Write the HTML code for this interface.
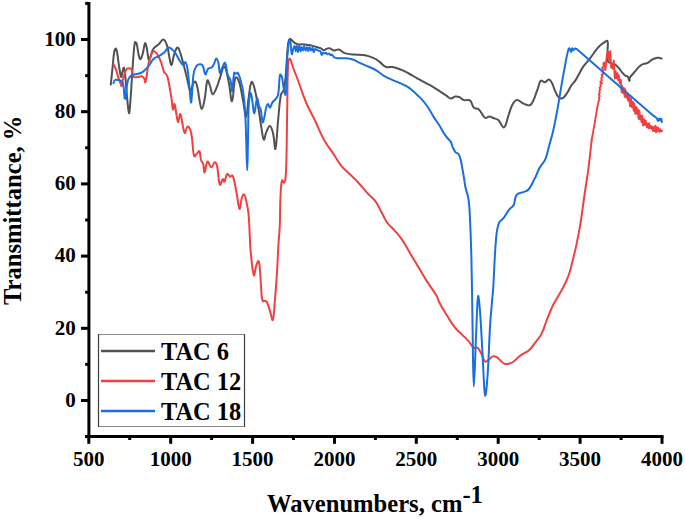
<!DOCTYPE html>
<html><head><meta charset="utf-8"><style>
html,body{margin:0;padding:0;background:#fff;}
body{width:685px;height:519px;overflow:hidden;}
svg{display:block;}
text{font-family:"Liberation Serif",serif;font-weight:bold;fill:#000;}
.tl{font-size:21px;}
.lg{font-size:24.4px;}
.tt{font-size:24.6px;}
</style></head><body>
<svg width="685" height="519" viewBox="0 0 685 519">
<rect x="87.4" y="2" width="3" height="436" fill="#000"/>
<rect x="85" y="435" width="578.5" height="3" fill="#000"/>
<rect x="81" y="399.0" width="7" height="3" fill="#000"/>
<text x="75.8" y="406.7" class="tl" text-anchor="end">0</text>
<rect x="81" y="326.8" width="7" height="3" fill="#000"/>
<text x="75.8" y="334.5" class="tl" text-anchor="end">20</text>
<rect x="81" y="254.6" width="7" height="3" fill="#000"/>
<text x="75.8" y="262.3" class="tl" text-anchor="end">40</text>
<rect x="81" y="182.4" width="7" height="3" fill="#000"/>
<text x="75.8" y="190.1" class="tl" text-anchor="end">60</text>
<rect x="81" y="110.2" width="7" height="3" fill="#000"/>
<text x="75.8" y="117.9" class="tl" text-anchor="end">80</text>
<rect x="81" y="38.0" width="7" height="3" fill="#000"/>
<text x="75.8" y="45.7" class="tl" text-anchor="end">100</text>
<rect x="85.2" y="435.1" width="2.8" height="3" fill="#000"/>
<rect x="85.2" y="362.9" width="2.8" height="3" fill="#000"/>
<rect x="85.2" y="290.7" width="2.8" height="3" fill="#000"/>
<rect x="85.2" y="218.5" width="2.8" height="3" fill="#000"/>
<rect x="85.2" y="146.3" width="2.8" height="3" fill="#000"/>
<rect x="85.2" y="74.1" width="2.8" height="3" fill="#000"/>
<rect x="85.2" y="1.9" width="2.8" height="3" fill="#000"/>
<rect x="87.3" y="436" width="3" height="7.8" fill="#000"/>
<text x="88.8" y="465.6" class="tl" text-anchor="middle">500</text>
<rect x="169.2" y="436" width="3" height="7.8" fill="#000"/>
<text x="170.7" y="465.6" class="tl" text-anchor="middle">1000</text>
<rect x="251.1" y="436" width="3" height="7.8" fill="#000"/>
<text x="252.6" y="465.6" class="tl" text-anchor="middle">1500</text>
<rect x="333.0" y="436" width="3" height="7.8" fill="#000"/>
<text x="334.5" y="465.6" class="tl" text-anchor="middle">2000</text>
<rect x="414.8" y="436" width="3" height="7.8" fill="#000"/>
<text x="416.3" y="465.6" class="tl" text-anchor="middle">2500</text>
<rect x="496.7" y="436" width="3" height="7.8" fill="#000"/>
<text x="498.2" y="465.6" class="tl" text-anchor="middle">3000</text>
<rect x="578.6" y="436" width="3" height="7.8" fill="#000"/>
<text x="580.1" y="465.6" class="tl" text-anchor="middle">3500</text>
<rect x="660.5" y="436" width="3" height="7.8" fill="#000"/>
<text x="662.0" y="465.6" class="tl" text-anchor="middle">4000</text>
<rect x="128.2" y="436" width="3" height="4" fill="#000"/>
<rect x="210.1" y="436" width="3" height="4" fill="#000"/>
<rect x="292.0" y="436" width="3" height="4" fill="#000"/>
<rect x="373.9" y="436" width="3" height="4" fill="#000"/>
<rect x="455.8" y="436" width="3" height="4" fill="#000"/>
<rect x="537.7" y="436" width="3" height="4" fill="#000"/>
<rect x="619.6" y="436" width="3" height="4" fill="#000"/>
<path d="M110.8,84.6 C111.6,77.2 111.9,73.6 112.7,66.2 C113.3,60.6 113.2,57.8 114.2,52.3 C114.5,50.7 115.3,48.2 115.8,48.5 C116.5,48.8 116.9,51.6 117.3,53.8 C118.1,58.1 118.1,60.3 118.8,64.6 C119.6,69.5 120.2,75.2 121.2,76.9 C121.7,77.7 122.0,73.2 122.7,70.8 C123.1,69.5 123.5,67.3 123.8,67.7 C124.4,68.5 124.7,71.3 125.0,73.8 C125.8,80.6 125.9,84.0 126.5,90.8 C127.1,97.6 127.3,101.0 128.1,107.7 C128.4,109.9 128.9,113.9 129.2,113.1 C129.8,111.4 130.0,106.1 130.4,101.5 C131.1,92.3 131.3,87.7 131.9,78.5 C132.5,69.3 132.7,64.6 133.5,55.4 C133.9,50.1 133.9,46.7 135.0,42.3 C135.1,41.7 136.3,42.5 136.5,43.1 C137.8,47.7 137.6,50.6 138.8,55.4 C139.2,57.0 139.8,59.5 140.4,59.2 C141.3,58.8 142.0,56.0 142.7,53.8 C143.6,50.8 143.5,49.2 144.2,46.2 C144.5,44.9 144.9,42.8 145.3,43.1 C145.9,43.5 146.4,46.0 146.8,48.0 C147.8,53.0 147.8,57.8 148.9,60.6 C149.2,61.4 149.9,58.5 150.5,57.0 C151.7,53.8 151.5,51.8 153.3,49.0 C154.7,46.8 156.4,46.4 158.4,44.6 C160.5,42.6 161.8,39.2 163.5,39.5 C165.3,39.8 166.3,43.2 167.2,46.0 C168.7,50.6 168.4,53.2 169.5,58.0 C170.1,60.8 170.8,65.5 171.5,65.0 C172.6,64.3 172.7,58.9 174.0,55.0 C175.0,51.9 175.9,48.2 177.4,47.5 C178.3,47.0 179.3,50.1 180.0,52.0 C181.3,55.3 181.6,57.1 182.5,60.6 C184.2,66.7 184.9,69.8 186.5,76.0 C188.1,82.0 188.7,88.8 190.5,91.0 C191.3,92.0 191.7,86.6 193.0,84.0 C193.6,82.8 194.7,81.0 195.3,81.5 C196.5,82.6 196.9,85.3 197.5,88.0 C198.6,92.7 198.5,95.2 199.5,100.0 C200.2,103.6 200.7,109.0 201.7,109.0 C202.7,109.0 203.8,103.7 204.5,100.0 C206.1,92.2 205.8,84.7 207.5,80.4 C208.0,79.1 209.2,83.7 210.0,86.0 C211.2,89.2 211.2,93.7 212.6,94.2 C213.7,94.6 215.2,90.9 216.3,88.4 C218.1,84.5 218.4,82.3 219.9,78.2 C221.6,73.5 222.8,65.8 224.3,66.5 C226.3,67.4 227.3,75.7 228.7,82.0 C230.4,89.6 230.8,101.9 232.0,101.2 C233.4,100.4 233.3,87.1 235.1,78.3 C235.3,77.5 236.5,76.9 236.9,77.4 C238.3,79.1 239.0,81.1 239.7,83.8 C241.6,91.0 241.9,94.8 243.3,102.1 C244.4,108.0 245.2,117.7 246.1,116.8 C247.4,115.5 247.5,104.6 248.8,96.6 C249.7,90.7 250.0,84.6 251.6,82.0 C252.2,80.9 253.7,85.1 254.3,87.5 C256.2,94.7 256.7,98.4 258.0,105.8 C259.7,115.3 260.1,120.1 261.7,129.6 C262.4,133.7 262.8,139.1 263.8,139.7 C264.6,140.2 265.0,135.2 266.2,132.4 C267.4,129.7 268.6,125.8 269.9,126.0 C271.3,126.2 272.3,130.2 273.0,133.3 C274.5,139.4 274.7,150.7 275.4,148.9 C276.7,145.6 276.9,131.9 278.1,120.5 C279.1,110.2 279.1,104.8 280.9,94.8 C281.3,92.7 283.0,92.2 283.6,90.2 C284.9,85.6 285.0,83.1 285.5,78.3 C286.2,72.2 286.1,69.1 286.6,63.0 C287.2,55.4 287.1,51.5 288.1,44.0 C288.4,41.8 288.8,39.5 289.9,38.8 C290.6,38.3 291.5,40.1 292.5,41.0 C293.5,41.9 293.9,42.5 295.0,43.2 C295.9,43.8 296.5,44.1 297.6,44.3 C299.3,44.6 300.2,44.3 302.0,44.3 C303.2,44.3 303.7,44.4 304.9,44.5 C306.7,44.7 307.6,44.7 309.3,45.0 C311.1,45.3 312.0,45.6 313.7,46.1 C315.2,46.5 315.9,46.8 317.3,47.2 C318.8,47.6 319.6,47.7 321.0,48.3 C322.2,48.9 322.7,50.1 323.9,50.2 C325.0,50.3 325.6,49.1 326.8,48.7 C327.9,48.3 328.6,48.0 329.7,48.3 C331.1,48.6 331.6,49.6 333.0,50.2 C333.5,50.4 333.8,50.6 334.4,50.5 C336.2,50.3 337.2,49.1 338.8,49.5 C341.3,50.1 342.1,52.3 344.6,53.1 C348.5,54.3 350.7,54.2 354.8,54.6 C358.9,55.0 361.0,54.5 365.0,55.3 C368.6,56.0 370.4,56.7 373.8,58.2 C376.3,59.3 377.4,60.3 379.6,61.9 C382.3,63.8 383.3,65.9 386.2,67.0 C388.5,67.9 390.2,66.5 392.8,67.0 C396.4,67.7 398.1,68.5 401.5,69.9 C404.5,71.1 405.9,72.0 408.8,73.5 C412.4,75.4 414.0,76.6 417.6,78.6 C422.5,81.3 425.1,82.4 430.0,85.2 C433.1,87.0 434.7,88.0 437.7,89.9 C441.2,92.2 442.9,93.4 446.4,95.7 C448.2,96.9 449.0,98.4 450.8,98.6 C452.5,98.8 453.4,96.9 455.2,96.6 C456.9,96.3 458.0,96.6 459.6,97.2 C461.5,98.0 462.0,99.5 463.9,100.1 C466.2,100.8 468.3,99.2 470.0,100.5 C472.3,102.3 471.8,105.7 474.0,107.9 C475.1,109.0 476.7,108.2 478.1,108.9 C479.1,109.4 479.4,110.1 480.1,111.0 C482.2,113.7 482.8,116.5 485.2,118.0 C486.4,118.7 487.6,116.6 489.2,116.6 C490.8,116.6 491.7,117.4 493.3,118.0 C495.3,118.8 496.7,118.7 498.3,120.1 C501.0,122.5 502.3,128.2 504.0,127.4 C506.4,126.2 506.8,120.0 508.6,115.0 C510.2,110.8 510.4,108.3 512.5,104.5 C513.7,102.3 515.0,100.2 517.0,100.0 C519.2,99.8 520.5,102.4 523.0,103.4 C525.6,104.5 527.7,106.0 529.9,105.2 C532.0,104.5 532.5,102.0 533.7,99.6 C535.2,96.7 535.4,95.0 536.6,91.9 C537.1,90.6 537.3,90.0 537.8,88.7 C539.0,85.5 539.0,82.3 540.9,80.6 C541.8,79.7 543.4,82.4 544.9,82.2 C546.6,82.0 547.5,79.4 548.9,79.6 C550.3,79.8 551.1,81.4 552.0,83.0 C553.6,85.9 553.6,87.7 555.0,90.7 C556.4,93.6 556.9,95.9 559.1,97.8 C560.2,98.7 561.9,98.6 563.1,97.8 C565.1,96.6 565.8,94.9 567.2,92.8 C569.0,90.1 569.4,88.4 571.2,85.7 C572.6,83.5 573.9,82.8 575.3,80.6 C577.1,77.9 577.7,76.3 579.3,73.5 C580.9,70.7 581.5,69.1 583.4,66.4 C585.8,63.0 587.5,61.7 590.0,58.4 C591.9,55.9 592.7,54.5 594.6,52.0 C596.4,49.6 597.2,48.3 599.3,46.2 C600.9,44.6 602.0,43.9 603.9,42.7 C605.2,41.9 607.0,40.1 607.4,41.0 C608.5,43.3 607.5,46.9 607.6,50.8 C607.7,55.0 607.1,57.4 607.9,61.2 C608.1,62.3 609.3,62.4 610.3,63.0 C611.3,63.6 612.0,63.7 613.1,64.1 C614.0,64.4 614.7,64.1 615.5,64.7 C617.0,65.8 617.6,66.7 618.9,68.2 C620.4,70.0 620.9,71.0 622.4,72.8 C623.5,74.0 624.0,74.8 625.3,75.7 C626.1,76.2 627.1,75.6 627.6,76.3 C628.7,77.7 628.9,80.6 629.4,80.9 C629.8,81.1 629.3,78.7 629.9,77.5 C630.7,75.9 631.6,75.4 632.8,74.0 C634.2,72.4 634.9,71.5 636.3,69.9 C637.7,68.3 638.3,67.3 640.0,65.9 C641.3,64.9 642.1,64.5 643.6,63.9 C645.2,63.3 646.3,63.6 647.8,62.8 C649.6,61.9 650.2,60.7 652.0,59.7 C653.6,58.8 654.5,58.5 656.3,58.0 C657.3,57.7 657.9,57.7 659.0,57.8 C660.1,57.9 660.6,58.3 661.6,58.6" fill="none" stroke="#515151" stroke-width="2.0" stroke-linejoin="round" stroke-linecap="round"/>
<path d="M113.5,63.8 C114.4,66.0 115.0,67.0 115.8,69.2 C116.9,72.2 117.1,73.8 118.1,76.9 C118.9,79.4 119.5,80.6 120.4,83.1 C120.9,84.3 121.3,86.6 121.6,86.2 C122.2,85.4 122.1,82.4 122.7,80.0 C123.2,78.1 123.6,77.2 124.2,75.4 C125.1,72.9 124.9,70.9 126.5,69.2 C127.4,68.2 129.1,68.1 130.4,68.5 C131.3,68.8 131.5,69.8 131.9,70.8 C132.8,73.1 132.1,75.5 133.5,76.9 C134.5,77.9 136.3,77.1 138.1,76.9 C139.6,76.8 140.6,75.9 141.9,76.2 C143.0,76.5 143.6,77.4 144.2,78.5 C145.0,79.9 145.0,83.3 145.3,82.5 C146.3,79.9 146.6,75.0 147.5,70.0 C148.3,65.7 148.2,63.3 149.6,59.2 C150.8,55.8 152.0,51.2 154.0,51.2 C156.1,51.2 158.2,55.7 159.9,59.2 C162.3,64.1 162.1,67.3 164.2,72.3 C164.6,73.2 165.5,73.2 166.0,74.0 C167.0,75.5 167.5,76.4 167.9,78.2 C169.7,86.2 170.2,90.4 171.5,98.6 C172.2,103.0 172.2,108.2 173.0,109.6 C173.4,110.3 174.0,103.5 174.5,103.8 C175.1,104.1 175.3,108.1 175.9,111.0 C176.8,115.4 177.1,121.3 178.1,122.0 C178.8,122.5 179.5,112.7 180.3,114.0 C182.2,117.1 182.6,129.4 184.7,133.0 C185.5,134.3 186.3,126.4 187.6,126.4 C188.9,126.4 190.6,130.1 191.2,133.0 C193.2,142.1 192.2,149.4 194.2,156.3 C194.6,157.5 195.9,154.5 197.1,153.4 C198.0,152.5 199.1,150.5 199.5,151.2 C200.6,153.1 200.0,156.6 201.0,160.0 C201.5,161.6 202.6,162.0 203.1,163.6 C204.1,167.0 203.8,172.8 204.6,172.4 C205.6,171.9 205.9,162.8 207.5,161.5 C208.5,160.7 209.7,167.2 211.2,167.3 C212.6,167.4 213.4,162.6 214.8,162.2 C215.7,162.0 216.6,164.2 217.0,165.8 C218.7,173.2 218.2,180.9 219.9,184.8 C220.5,186.1 221.6,179.8 222.8,179.0 C223.4,178.6 223.8,182.5 224.3,181.9 C225.6,180.4 225.6,175.3 227.2,173.9 C228.0,173.2 228.9,176.5 230.1,176.8 C230.9,177.0 231.7,174.9 232.3,175.3 C233.2,175.8 233.4,177.5 233.8,179.0 C235.2,184.8 235.6,187.8 236.7,193.6 C237.9,199.7 238.4,207.9 239.6,208.9 C240.4,209.6 240.5,202.2 241.8,198.0 C242.3,196.4 243.3,193.9 244.0,194.3 C245.1,195.0 245.6,198.2 246.2,200.9 C247.3,205.5 247.9,207.9 248.4,212.6 C249.2,219.5 249.1,223.0 249.5,230.0 C249.9,237.7 249.9,241.6 250.5,249.3 C251.1,257.0 251.5,260.9 252.5,268.5 C252.9,271.4 253.5,275.6 254.1,275.6 C254.7,275.6 254.7,271.3 255.5,268.5 C256.4,265.4 257.2,261.8 258.2,261.0 C258.8,260.6 259.4,263.6 259.6,265.5 C260.5,273.5 260.3,277.6 261.0,285.7 C261.5,291.8 261.0,295.8 262.6,300.9 C262.9,301.9 264.8,300.3 265.7,300.9 C266.8,301.6 267.1,302.6 267.7,304.0 C269.0,307.1 269.3,308.8 270.3,312.0 C271.3,315.2 272.2,321.4 272.8,320.1 C274.0,317.3 274.1,309.2 274.8,301.9 C275.7,291.4 276.1,286.1 276.8,275.6 C277.6,263.4 277.7,257.4 278.4,245.2 C278.9,237.1 279.5,233.1 279.8,225.0 C280.3,213.6 279.9,207.9 280.5,196.5 C280.8,190.0 280.8,185.1 282.0,180.4 C282.2,179.5 283.7,183.0 284.2,182.6 C285.1,181.9 285.4,179.6 285.6,177.5 C286.3,170.6 286.2,167.0 286.4,160.0 C286.9,140.0 286.8,130.0 287.2,110.0 C287.6,90.8 287.2,81.1 288.2,62.0 C288.3,60.5 289.3,57.9 289.9,58.6 C291.4,60.5 291.9,64.6 293.4,68.5 C295.0,72.7 295.9,74.8 297.5,79.0 C301.1,88.6 302.3,93.6 306.3,103.0 C309.3,110.2 311.6,113.5 315.0,120.5 C318.6,128.1 319.8,132.2 323.8,139.5 C326.8,145.0 329.1,147.3 332.6,152.6 C336.1,157.9 337.4,160.9 341.3,165.8 C344.4,169.6 346.6,171.0 350.1,174.5 C353.0,177.4 354.7,178.7 357.5,181.7 C361.7,186.2 363.5,188.8 367.7,193.4 C370.5,196.4 372.5,197.4 375.0,200.7 C377.8,204.4 378.6,206.8 380.9,210.9 C383.3,215.3 383.9,217.9 386.7,222.0 C389.1,225.5 391.2,226.7 394.0,229.9 C397.0,233.3 398.7,234.9 401.3,238.6 C405.2,244.2 406.6,247.4 410.1,253.2 C413.6,259.0 415.3,262.0 418.8,267.8 C422.3,273.6 423.9,276.6 427.6,282.4 C431.0,287.7 433.2,290.1 436.4,295.5 C438.2,298.6 438.3,300.6 440.0,303.8 C442.7,308.9 444.4,311.4 447.5,316.3 C450.4,320.9 451.6,323.4 455.0,327.6 C457.7,330.9 459.6,332.1 462.6,335.1 C465.1,337.6 466.5,338.8 468.8,341.4 C470.9,343.8 471.4,346.0 473.8,347.7 C474.9,348.5 476.6,346.8 477.6,347.7 C479.6,349.3 480.0,351.3 481.4,353.9 C483.0,356.9 483.1,360.0 485.1,361.5 C486.1,362.3 487.5,360.6 488.9,359.7 C490.5,358.6 490.9,357.0 492.6,356.4 C493.9,355.9 495.1,356.2 496.4,356.9 C498.7,358.2 499.3,359.8 501.4,361.5 C502.8,362.6 503.5,363.7 505.2,364.0 C507.1,364.4 508.3,363.8 510.2,363.2 C511.8,362.8 512.6,362.4 513.9,361.5 C515.6,360.2 516.1,359.1 517.7,357.7 C519.1,356.4 519.9,355.8 521.5,354.7 C524.4,352.8 526.4,352.5 529.0,350.2 C531.9,347.7 532.8,345.8 535.2,342.7 C537.8,339.3 539.5,337.7 541.5,333.9 C544.2,328.6 544.6,325.5 546.8,320.0 C549.0,314.4 549.9,311.6 552.5,306.2 C554.3,302.4 555.6,300.7 557.7,297.0 C559.6,293.7 560.6,292.2 562.4,288.9 C563.9,286.2 564.5,284.8 565.8,282.0 C567.1,279.2 567.7,277.8 568.7,275.0 C569.5,272.7 569.9,271.5 570.5,269.2 C571.5,265.5 571.9,263.7 572.8,260.0 C574.2,254.2 575.1,251.3 576.3,245.4 C578.1,236.8 578.9,232.5 580.4,223.8 C581.7,216.3 582.0,212.5 583.1,205.0 C584.1,198.2 584.5,194.8 585.5,188.0 C586.7,180.0 587.5,176.0 588.5,168.0 C589.9,156.8 590.4,151.2 591.7,140.0" fill="none" stroke="#F14040" stroke-width="2.0" stroke-linejoin="round" stroke-linecap="round"/>
<polyline points="591.7,140.0 592.0,138.2 592.3,136.6 592.6,134.8 592.9,133.1 593.3,131.1 593.5,129.6 593.9,127.6 594.1,126.3 594.5,124.2 594.8,122.3 595.0,121.1 595.2,119.9 595.4,118.4 595.7,116.8 596.1,114.7 596.4,112.9 596.7,111.0 596.9,109.5 597.3,107.3 597.7,105.4 598.0,104.0 598.2,102.7 598.6,101.1 599.4,99.6 598.9,97.5 599.8,96.1 598.8,94.4 599.8,92.8 599.3,91.0 600.2,89.5 599.6,88.0 600.8,86.0 600.3,84.6 602.1,83.3 600.3,82.0 602.0,80.3 601.2,78.4 602.4,76.5 601.6,74.9 603.6,73.4 602.0,71.4 603.5,69.4 602.0,67.8 603.9,65.9 603.3,63.7 604.1,62.5 605.5,70.0 606.3,60.0 607.5,51.5 608.0,57.2 608.7,52.3 609.6,60.1 610.3,51.2 611.2,67.6 611.8,63.7 612.8,68.8 613.8,60.7 614.8,78.6 615.6,71.1 616.7,78.2 617.4,73.3 618.1,80.0 618.7,75.3 619.7,83.2 620.8,79.8 621.5,91.9 622.1,85.6 622.7,93.0 623.8,88.0 624.7,96.8 625.2,89.3 626.3,97.7 627.1,93.0 628.2,100.9 629.2,95.3 630.1,106.4 630.9,98.4 631.9,107.2 632.9,101.7 633.7,110.6 634.3,103.6 635.3,113.8 636.3,107.0 637.3,114.3 637.9,109.5 638.5,118.8 639.4,110.7 640.0,119.4 640.6,115.5 641.5,122.1 642.3,115.6 643.1,125.6 644.1,119.2 644.8,124.8 645.8,120.6 646.9,127.0 647.7,123.7 648.5,128.3 649.2,123.2 650.0,128.2 651.0,126.1 651.9,129.1 652.5,126.6 653.0,131.0 653.6,127.3 654.4,131.0 655.4,125.6 656.1,132.4 656.7,127.2 657.3,131.0 658.2,127.6 659.2,131.9 660.2,129.2 661.2,131.7 662.1,130.8" fill="none" stroke="#F14040" stroke-width="1.9" stroke-linejoin="round" stroke-linecap="round"/>
<path d="M113.5,83.1 C114.1,81.9 114.0,80.7 115.0,80.0 C115.9,79.4 116.9,79.7 118.1,80.0 C119.7,80.3 120.9,80.4 121.9,81.5 C123.1,82.9 123.2,84.3 123.5,86.2 C124.3,91.1 123.9,94.0 124.7,98.5 C124.8,98.9 125.7,98.9 125.8,98.5 C126.4,95.2 126.0,92.9 126.5,89.2 C127.0,85.5 127.0,83.5 128.1,80.0 C128.6,78.3 129.2,77.4 130.4,76.2 C131.4,75.2 132.2,75.0 133.5,74.6 C135.3,74.1 136.3,74.3 138.1,73.8 C139.7,73.4 140.5,73.1 141.9,72.3 C143.2,71.6 143.9,71.0 145.0,70.0 C146.4,68.7 147.0,68.0 148.2,66.5 C150.6,63.4 151.3,61.2 154.0,58.5 C155.4,57.1 156.7,57.3 158.4,56.3 C160.8,54.9 162.1,54.4 164.2,52.6 C166.2,50.9 166.6,47.6 168.6,47.5 C170.8,47.4 172.6,49.7 174.5,51.9 C177.0,54.9 177.4,57.2 179.6,60.6 C180.9,62.5 181.8,64.6 183.2,65.0 C184.1,65.2 184.8,61.5 185.4,62.1 C186.6,63.3 187.1,66.4 187.6,69.4 C188.8,76.8 188.7,80.6 189.5,88.0 C190.1,93.8 190.4,102.1 191.0,102.5 C191.5,102.9 191.8,95.0 192.3,90.0 C192.9,83.5 192.5,80.1 193.6,73.8 C194.2,70.5 194.7,68.3 196.6,65.8 C197.6,64.5 199.4,64.1 201.0,64.3 C202.0,64.4 202.6,65.4 203.1,66.5 C204.4,69.5 204.2,74.0 205.3,74.5 C206.2,74.9 206.6,70.5 208.2,68.7 C209.2,67.6 210.8,68.2 211.9,67.2 C213.1,66.2 213.3,65.1 214.1,63.6 C215.1,61.6 215.4,58.5 216.3,58.5 C217.2,58.5 218.0,61.5 218.5,63.6 C219.4,67.3 219.0,72.0 219.9,73.1 C220.4,73.7 221.1,70.0 222.1,68.0 C223.2,65.9 224.3,61.9 225.0,62.8 C226.5,64.6 226.2,70.1 227.7,74.7 C228.4,77.0 229.8,77.8 230.5,80.2 C231.7,84.4 231.7,92.3 232.3,91.2 C233.2,89.4 232.9,79.1 234.2,72.8 C234.3,72.1 235.3,73.7 236.0,73.7 C236.7,73.7 237.4,72.3 237.8,72.8 C239.3,74.9 239.8,77.2 240.6,80.2 C242.0,85.2 242.6,87.8 243.3,93.0 C244.4,101.0 244.7,105.0 245.2,113.1 C245.9,123.8 245.8,129.2 246.2,140.0 C246.6,152.1 246.8,170.2 247.2,170.2 C247.6,170.2 247.7,152.1 248.0,140.0 C248.3,128.0 248.1,122.0 248.5,110.0 C248.7,104.6 248.8,101.9 249.5,96.6 C249.7,95.1 250.4,92.4 250.7,93.0 C251.6,94.6 251.8,98.4 252.5,102.1 C253.3,106.5 253.5,113.7 254.3,113.1 C255.4,112.3 255.9,100.4 257.1,98.5 C257.7,97.5 258.0,103.0 258.9,105.8 C259.4,107.4 260.3,107.9 260.7,109.5 C261.8,114.5 261.6,120.3 262.6,122.3 C263.1,123.2 263.9,119.0 264.4,116.8 C265.3,113.2 265.2,111.2 266.2,107.6 C266.6,106.0 267.4,104.0 268.1,104.0 C268.8,104.0 269.2,107.9 269.9,107.6 C271.0,107.1 271.3,104.1 272.6,102.1 C273.5,100.8 274.5,100.6 275.4,99.4 C276.7,97.7 277.7,96.9 278.1,94.8 C279.6,87.0 278.7,81.2 280.0,74.7 C280.2,73.9 281.5,75.5 281.8,76.5 C283.0,80.7 282.7,83.1 283.6,87.5 C284.2,90.5 285.1,95.6 285.5,94.8 C286.2,93.4 286.2,87.1 286.4,82.0 C286.7,74.4 286.5,70.6 286.9,63.0 C287.2,56.8 287.5,53.7 288.1,47.6 C288.4,44.7 288.5,42.5 289.2,40.3 C289.3,39.9 290.2,40.5 290.3,41.0 C290.9,43.4 290.7,45.0 291.0,47.6 C291.2,49.4 291.1,50.3 291.4,52.0 C291.6,52.9 291.9,54.5 292.1,54.2 C292.5,53.7 292.5,51.6 293.0,50.0 C293.5,48.4 294.2,45.9 294.7,46.1 C295.3,46.4 295.4,51.2 295.8,51.2 C296.2,51.2 296.5,46.0 296.9,46.1 C297.4,46.3 297.6,52.1 298.0,52.0 C298.5,51.9 298.6,45.6 299.1,45.4 C299.6,45.2 299.9,50.9 300.5,51.2 C300.9,51.5 301.1,47.0 301.6,46.9 C302.1,46.8 302.5,50.6 303.0,50.5 C303.6,50.3 303.7,46.1 304.2,46.1 C304.7,46.1 305.0,50.3 305.6,50.5 C306.1,50.6 306.6,46.8 307.1,46.9 C307.7,47.0 307.7,51.1 308.2,51.2 C308.7,51.3 309.0,47.4 309.6,47.2 C310.1,47.1 310.5,50.4 311.1,50.5 C311.7,50.6 312.2,47.3 312.6,47.6 C313.2,47.9 313.1,51.6 313.7,52.0 C314.1,52.2 314.3,49.7 315.1,49.1 C315.5,48.8 316.0,49.5 316.6,49.8 C317.2,50.1 317.4,50.3 318.0,50.5 C318.9,50.8 319.7,50.6 320.2,51.2 C321.1,52.3 321.0,54.5 321.7,54.9 C322.2,55.1 322.4,53.1 323.1,52.7 C323.6,52.5 324.0,53.4 324.6,53.4 C325.2,53.4 325.5,52.6 326.0,52.7 C326.7,52.9 326.8,54.0 327.5,54.2 C328.0,54.3 328.5,53.3 329.0,53.4 C329.6,53.6 329.7,54.7 330.4,55.0 C330.9,55.2 331.5,54.3 332.0,54.6 C333.0,55.3 333.0,56.8 334.2,57.4 C335.7,58.2 336.9,58.1 338.8,58.2 C341.1,58.4 342.3,58.0 344.6,58.2 C348.1,58.6 350.0,58.7 353.4,59.7 C355.9,60.4 356.8,61.5 359.2,62.6 C363.2,64.4 365.4,65.2 369.4,67.0 C372.4,68.4 373.9,68.9 376.7,70.6 C379.8,72.4 380.9,74.0 384.0,75.8 C387.4,77.8 389.2,78.5 392.8,80.1 C395.7,81.4 397.2,81.8 400.1,83.1 C403.1,84.4 404.7,84.9 407.4,86.7 C410.5,88.7 411.9,90.1 414.7,92.6 C417.7,95.3 419.3,96.6 422.0,99.6 C424.5,102.4 425.6,103.9 427.7,107.0 C430.2,110.7 431.1,112.8 433.5,116.6 C435.7,120.1 437.1,121.8 439.3,125.3 C441.7,129.1 442.5,131.2 445.0,134.9 C446.4,137.0 447.3,137.8 448.9,139.7 C449.6,140.5 450.3,140.7 450.8,141.7 C451.9,143.8 451.8,145.2 452.8,147.4 C453.7,149.4 454.2,150.6 455.6,152.3 C456.5,153.3 457.7,153.1 458.5,154.2 C459.7,155.8 460.0,157.0 460.5,159.0 C461.5,162.8 461.7,164.7 462.4,168.6 C463.2,173.1 463.6,175.4 464.3,180.0 C464.8,183.0 464.9,184.5 465.5,187.5 C466.5,192.2 467.8,194.4 468.5,199.2 C469.5,206.1 469.6,209.7 469.9,216.7 C470.7,233.0 471.0,241.2 471.4,257.6 C472.1,286.6 472.1,301.1 472.6,330.1 C473.0,352.7 473.1,386.5 473.8,386.5 C474.5,386.5 475.2,352.7 476.3,330.1 C476.9,316.6 477.1,301.0 478.1,296.3 C478.6,294.0 479.6,306.1 480.1,312.6 C481.4,329.6 481.6,338.2 482.6,355.2 C483.6,371.2 483.8,390.0 485.1,395.3 C485.8,398.0 487.0,383.3 487.6,375.2 C489.0,355.2 488.9,345.1 490.1,325.1 C490.9,313.0 491.6,307.0 492.6,295.0 C492.9,291.7 493.1,290.1 493.3,286.8 C494.5,267.0 494.4,257.0 496.2,237.2 C496.7,231.3 497.0,228.0 499.1,222.6 C500.0,220.4 502.0,220.2 503.5,218.2 C506.1,214.9 506.7,212.7 509.3,209.4 C510.8,207.4 512.6,207.2 513.7,205.0 C515.5,201.3 514.3,197.8 516.6,194.8 C518.3,192.6 521.0,193.2 523.9,191.9 C525.8,191.1 527.2,191.1 528.5,189.5 C531.6,185.7 532.4,183.1 534.7,178.6 C536.8,174.5 537.3,172.1 539.5,168.0 C541.5,164.4 543.7,163.2 545.3,159.4 C547.5,154.3 547.6,151.3 549.1,145.9 C550.6,140.5 551.5,137.8 552.8,132.4 C554.3,126.3 554.8,123.2 556.0,117.0 C557.2,110.9 557.7,107.8 558.8,101.6 C559.6,97.0 559.9,94.6 560.7,90.0 C561.6,84.6 562.0,82.0 563.0,76.6 C564.2,70.1 564.8,66.9 566.0,60.4 C566.5,58.0 566.6,56.7 567.2,54.3 C567.9,51.8 568.2,48.8 569.2,48.2 C569.8,47.8 570.6,51.9 571.2,51.9 C571.8,51.9 571.7,48.6 572.2,48.2 C572.5,47.9 572.6,50.1 573.2,50.2 C573.9,50.3 574.4,48.5 575.3,48.6 C576.9,48.9 577.9,50.0 579.3,51.2 C608.7,76.6 623.1,89.7 652.5,115.1 C654.0,116.4 655.3,116.6 656.6,118.0 C657.5,118.9 657.4,120.8 658.0,120.9 C658.5,121.0 658.8,118.5 659.3,118.4 C659.7,118.3 659.9,120.2 660.3,120.3 C660.7,120.4 661.0,118.4 661.2,118.7 C661.6,119.2 661.6,120.8 661.8,122.2" fill="none" stroke="#1A6FDF" stroke-width="2.0" stroke-linejoin="round" stroke-linecap="round"/>
<rect x="98" y="334" width="147" height="93" fill="#fff"/>
<line x1="98" y1="334.5" x2="245" y2="334.5" stroke="#8c8c8c" stroke-width="1"/>
<line x1="98" y1="426.5" x2="245" y2="426.5" stroke="#8c8c8c" stroke-width="1"/>
<line x1="98.5" y1="334" x2="98.5" y2="427" stroke="#3c3c3c" stroke-width="1.2"/>
<line x1="244.5" y1="334" x2="244.5" y2="427" stroke="#3c3c3c" stroke-width="1.2"/>
<line x1="101" y1="351" x2="155" y2="351" stroke="#515151" stroke-width="2.5"/>
<text x="161" y="359.7" class="lg">TAC 6</text>
<line x1="101" y1="381" x2="155" y2="381" stroke="#F14040" stroke-width="2.5"/>
<text x="161" y="389.7" class="lg">TAC 12</text>
<line x1="101" y1="411" x2="155" y2="411" stroke="#1A6FDF" stroke-width="2.5"/>
<text x="161" y="419.7" class="lg">TAC 18</text>
<text x="267" y="512" class="tt">Wavenumbers, cm<tspan dy="-9">-1</tspan></text>
<text transform="translate(21,305) rotate(-90)" x="0" y="0" class="tt">Transmittance, %</text>
</svg>
</body></html>
